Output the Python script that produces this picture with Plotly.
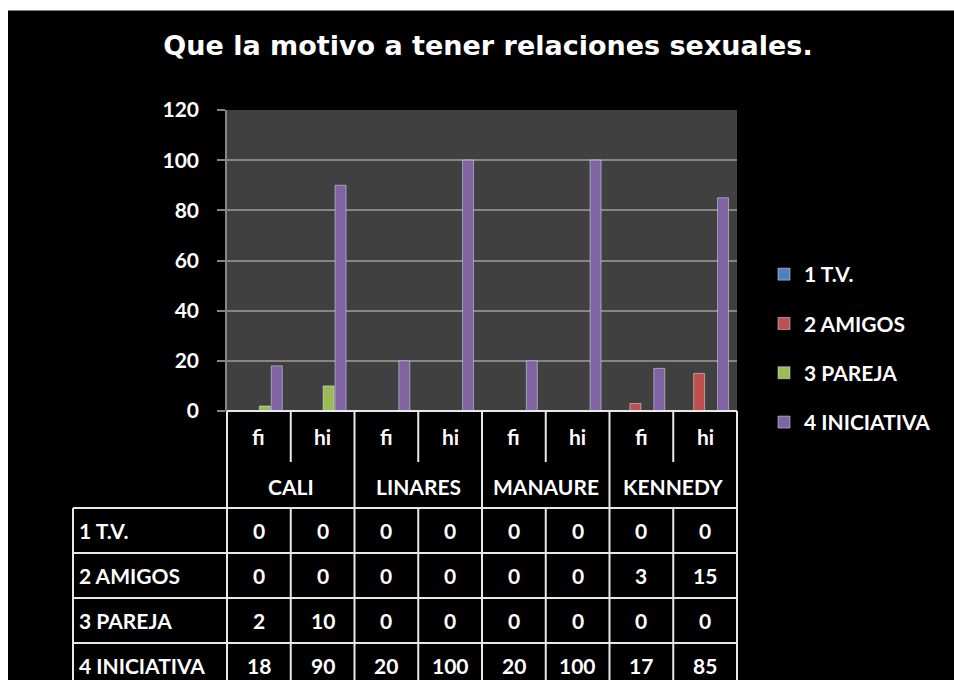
import plotly.graph_objects as go

cities = ["CALI", "LINARES", "MANAURE", "KENNEDY"]
measures = ["fi", "hi"]
series_names = ["1 T.V.", "2 AMIGOS", "3 PAREJA", "4 INICIATIVA"]
tv = [0, 0, 0, 0, 0, 0, 0, 0]
amigos = [0, 0, 0, 0, 0, 0, 3, 15]
pareja = [2, 10, 0, 0, 0, 0, 0, 0]
iniciativa = [18, 90, 20, 100, 20, 100, 17, 85]
series_values = [tv, amigos, pareja, iniciativa]
colors = ["#4f81bd", "#c0504d", "#9bbb59", "#8064a2"]
title_text = "Que la motivo a tener relaciones sexuales."

# the page body has an 8px margin, so the figure is 8px smaller than the window
OFF = 8
W, H = 954 - OFF, 680 - OFF
L, R, T, B = 227, 737, 110, 411  # plot area in page px
FONT = "Lato"
TXT = "#ffffff"
LINE = "#e8e8e8"


def px_x(px):
    return (px - L) / (R - L)


def px_y(py):
    return (B - py) / (B - T)


n = len(cities) * len(measures)
xs = list(range(n))

fig = go.Figure()
for name, vals, col in zip(series_names, series_values, colors):
    fig.add_trace(go.Bar(x=xs, y=vals, name=name, legendgroup=name,
                         marker=dict(color=col), hoverinfo="skip"))

shapes = []
# white strip above the black chart area, thin grey frame line under it
shapes.append(dict(type="rect", xref="paper", yref="paper", layer="below",
                   x0=px_x(0), x1=px_x(970), y0=px_y(0), y1=px_y(10),
                   fillcolor="white", line=dict(width=0)))
shapes.append(dict(type="line", xref="paper", yref="paper", layer="below",
                   x0=px_x(8), x1=px_x(970), y0=px_y(10.5), y1=px_y(10.5),
                   line=dict(color="#7f7f7f", width=1)))


def hline(y, x0, x1):
    shapes.append(dict(type="line", xref="paper", yref="paper", layer="above",
                       x0=px_x(x0), x1=px_x(x1), y0=px_y(y), y1=px_y(y),
                       line=dict(color=LINE, width=2)))


def vline(x, y0, y1):
    shapes.append(dict(type="line", xref="paper", yref="paper", layer="above",
                       x0=px_x(x), x1=px_x(x), y0=px_y(y0), y1=px_y(y1),
                       line=dict(color=LINE, width=2)))


col_w = (R - L) / n
row_y = [508, 553, 598, 643, 688]
label_left = 73
hdr_mid = 462
bottom = 700

hline(B, L, R)
for y in row_y:
    hline(y, label_left, R)
vline(label_left, row_y[0], bottom)
for i in range(n + 1):
    x = L + i * col_w
    if i % len(measures) == 0:
        vline(x, B, bottom)
    else:
        vline(x, B, hdr_mid)
        vline(x, row_y[0], bottom)

ann = []
tfont = dict(family=FONT, size=21, color=TXT, weight="bold")


def cell(x, y, text, anchor="center"):
    ann.append(dict(x=x, y=y, xref="paper", yref="paper", text=text, xanchor=anchor,
                    yanchor="middle", showarrow=False, font=tfont))


for i in range(n):
    cell(px_x(L + (i + 0.5) * col_w), px_y(437), measures[i % len(measures)])
for j, c in enumerate(cities):
    cell(px_x(L + (j + 0.5) * len(measures) * col_w), px_y(486), c)
for r, (name, vals) in enumerate(zip(series_names, series_values)):
    cy = px_y((row_y[r] + row_y[r + 1]) / 2)
    cell(px_x(77), cy, name, anchor="left")
    for i, v in enumerate(vals):
        cell(px_x(L + (i + 0.5) * col_w), cy, str(v))

fig.update_layout(
    width=W, height=H,
    margin=dict(l=L - OFF, r=954 - R, t=T - OFF, b=680 - B, pad=0),
    paper_bgcolor="black",
    plot_bgcolor="#404040",
    barmode="group", bargap=0.25, bargroupgap=0.08,
    title=dict(text=title_text, x=(488 - OFF) / W, xref="container", xanchor="center",
               y=1 - (46 - OFF) / H, yref="container", yanchor="middle",
               font=dict(family="DejaVu Sans", size=27, color=TXT, weight="bold")),
    xaxis=dict(range=[-0.5, n - 0.5], showticklabels=False, showgrid=False, zeroline=False,
               ticks="", showline=False, fixedrange=True),
    yaxis=dict(range=[0, 120], dtick=20, showgrid=True, gridcolor="#868686", gridwidth=1.5,
               zeroline=False, ticks="outside", ticklen=8, tickwidth=1.5, tickcolor="#868686",
               showline=True, linecolor="#868686", linewidth=1.5,
               tickfont=dict(family=FONT, size=21, color=TXT, weight="bold"), ticklabelstandoff=14),
    legend=dict(x=px_x(764), y=px_y(254), xref="paper", yref="paper", xanchor="left", yanchor="top",
                traceorder="grouped", tracegroupgap=19, bgcolor="rgba(0,0,0,0)",
                font=dict(family=FONT, size=21, color=TXT, weight="bold")),
    shapes=shapes,
    annotations=ann,
)

# let the figure run to the right edge of the window, no scrollbars
fig.write_html(
    "out.html",
    post_script=(
        "document.documentElement.style.overflow = 'hidden';"
        "document.body.style.overflow = 'hidden';"
        "document.body.style.marginRight = '0';"
        "document.body.style.marginBottom = '0';"
    ),
)
